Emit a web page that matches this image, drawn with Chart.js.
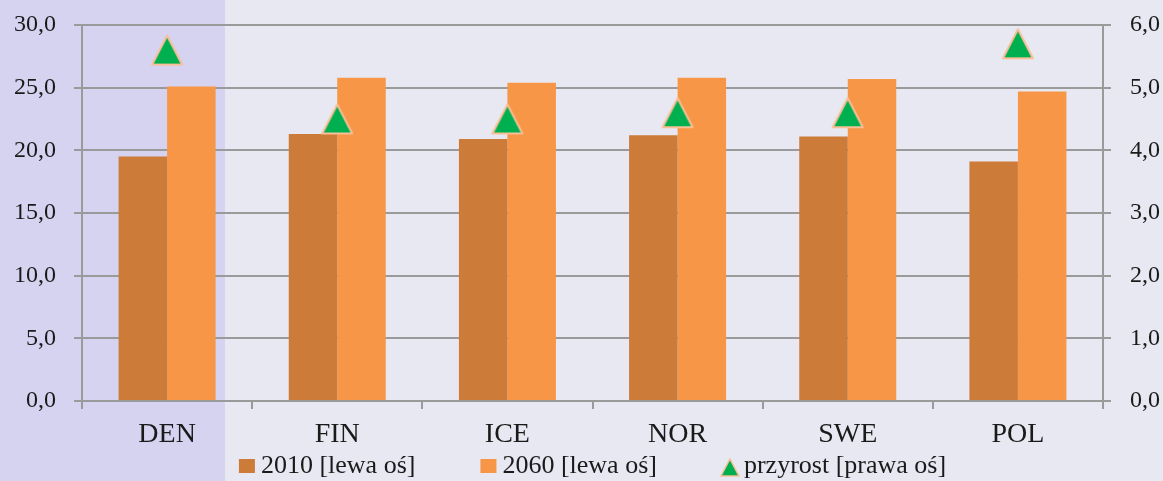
<!DOCTYPE html>
<html>
<head>
<meta charset="utf-8">
<script src="https://cdn.jsdelivr.net/npm/chart.js@4"></script>
<style>
  html, body { margin: 0; padding: 0; background: #e8e8f2; overflow: hidden; }
  canvas { display: block; }
</style>
</head>
<body>
<canvas id="wykres" width="1163" height="481"></canvas>
<script>
// Dane
const kraje = ["DEN", "FIN", "ICE", "NOR", "SWE", "POL"];
const wartosci2010 = [19.5, 21.3, 20.9, 21.2, 21.1, 19.1];
const wartosci2060 = [25.1, 25.8, 25.4, 25.8, 25.7, 24.7];
const przyrost = [5.6, 4.5, 4.5, 4.6, 4.6, 5.7];
const etykiety = ["2010 [lewa oś]", "2060 [lewa oś]", "przyrost [prawa oś]"];

const FONT = "'Liberation Serif', 'Times New Roman', serif";
const SZARY = '#9a9a9a';
const ZIELONY = '#00b050';
const OBWODKA = '#f9bf97';

// format liczb z przecinkiem (polski)
const fmt = v => Number(v).toFixed(1).replace('.', ',');

// trójkąt jak w Excelu: środek punktu = środek prostokąta otaczającego
function rysujTrojkat(szer, wys) {
    const c = document.createElement('canvas');
    c.width = szer + 4;
    c.height = wys + 4;
    const g = c.getContext('2d');
    g.beginPath();
    g.moveTo(c.width / 2, 2);
    g.lineTo(c.width - 2, c.height - 2);
    g.lineTo(2, c.height - 2);
    g.closePath();
    g.fillStyle = ZIELONY;
    g.fill();
    g.strokeStyle = OBWODKA;
    g.lineWidth = 2;
    g.lineJoin = 'round';
    g.stroke();
    return c;
}
const znacznik = rysujTrojkat(30, 29);

// tło + podświetlona kolumna DEN
const tloPlugin = {
    id: 'tlo',
    beforeDraw(chart) {
        const ctx = chart.ctx;
        const x = chart.scales.x;
        const szer = x.getPixelForValue(1) - x.getPixelForValue(0);
        const granica = x.getPixelForValue(0) + 0.34 * szer;
        ctx.save();
        ctx.fillStyle = '#e8e8f2';
        ctx.fillRect(0, 0, chart.width, chart.height);
        ctx.fillStyle = '#d5d3f0';
        ctx.fillRect(0, 0, granica, chart.height);
        ctx.restore();
    }
};

// własna legenda (dokładniejsze odstępy niż wbudowana)
const legendaPlugin = {
    id: 'legenda',
    afterDraw(chart) {
        const ctx = chart.ctx;
        const ds = chart.data.datasets;
        ctx.save();
        ctx.font = `26px ${FONT}`;
        ctx.textBaseline = 'alphabetic';
        const box = 16, gap = 6, odstep = 65;
        const szer = ds.map(d => box + gap + ctx.measureText(d.label).width);
        const calosc = szer.reduce((a, b) => a + b, 0) + odstep * (ds.length - 1);
        const srodek = (chart.chartArea.left + chart.chartArea.right) / 2;
        let x = srodek - calosc / 2;
        const yBase = 473;
        ds.forEach((d, i) => {
            if (d.type === 'line') {
                ctx.beginPath();
                ctx.moveTo(x + box / 2, yBase - 14);
                ctx.lineTo(x + box + 1, yBase + 3);
                ctx.lineTo(x - 1, yBase + 3);
                ctx.closePath();
                ctx.fillStyle = ZIELONY;
                ctx.fill();
                ctx.strokeStyle = OBWODKA;
                ctx.lineWidth = 1.5;
                ctx.stroke();
            } else {
                ctx.fillStyle = d.backgroundColor;
                ctx.fillRect(x, yBase - 14, box, 14);
            }
            ctx.fillStyle = '#1a1a1a';
            ctx.fillText(d.label, x + box + gap, yBase);
            x += szer[i] + odstep;
        });
        ctx.restore();
    }
};

const ctx = document.getElementById('wykres').getContext('2d');
new Chart(ctx, {
    data: {
        labels: kraje,
        datasets: [
            {
                type: 'bar',
                label: etykiety[0],
                data: wartosci2010,
                backgroundColor: '#cd7b38',
                yAxisID: 'y',
                categoryPercentage: 0.57,
                barPercentage: 1.0,
                order: 1
            },
            {
                type: 'bar',
                label: etykiety[1],
                data: wartosci2060,
                backgroundColor: '#f79646',
                yAxisID: 'y',
                categoryPercentage: 0.57,
                barPercentage: 1.0,
                order: 1
            },
            {
                type: 'line',
                label: etykiety[2],
                data: przyrost,
                yAxisID: 'y1',
                showLine: false,
                pointStyle: znacznik,
                pointRadius: 16,
                backgroundColor: ZIELONY,
                borderColor: OBWODKA,
                order: 0
            }
        ]
    },
    options: {
        responsive: false,
        animation: false,
        layout: { padding: { top: 25, left: 0, right: 0, bottom: 0 } },
        plugins: {
            legend: { display: false },
            tooltip: { enabled: false }
        },
        scales: {
            x: {
                offset: true,
                afterFit: s => { s.height = 80; s.paddingLeft = 0; s.paddingRight = 0; },
                grid: {
                    offset: true,
                    drawOnChartArea: false,
                    drawTicks: true,
                    tickLength: 8,
                    color: SZARY,
                    lineWidth: 2
                },
                border: { color: SZARY, width: 2 },
                ticks: {
                    color: '#1a1a1a',
                    padding: 9,
                    font: { family: FONT, size: 28 }
                }
            },
            y: {
                position: 'left',
                min: 0,
                max: 30,
                afterFit: s => { s.width = 82; s.paddingTop = 0; s.paddingBottom = 0; },
                grid: {
                    color: SZARY,
                    lineWidth: 2,
                    tickLength: 8
                },
                border: { color: SZARY, width: 2 },
                ticks: {
                    stepSize: 5,
                    padding: 18,
                    color: '#1a1a1a',
                    font: { family: FONT, size: 24 },
                    callback: v => fmt(v)
                }
            },
            y1: {
                position: 'right',
                min: 0,
                max: 6,
                afterFit: s => { s.width = 60; s.paddingTop = 0; s.paddingBottom = 0; },
                grid: {
                    drawOnChartArea: false,
                    color: SZARY,
                    lineWidth: 2,
                    tickLength: 8
                },
                border: { color: SZARY, width: 2 },
                ticks: {
                    stepSize: 1,
                    padding: 19,
                    color: '#1a1a1a',
                    font: { family: FONT, size: 24 },
                    callback: v => fmt(v)
                }
            }
        }
    },
    plugins: [tloPlugin, legendaPlugin]
});
</script>
</body>
</html>
